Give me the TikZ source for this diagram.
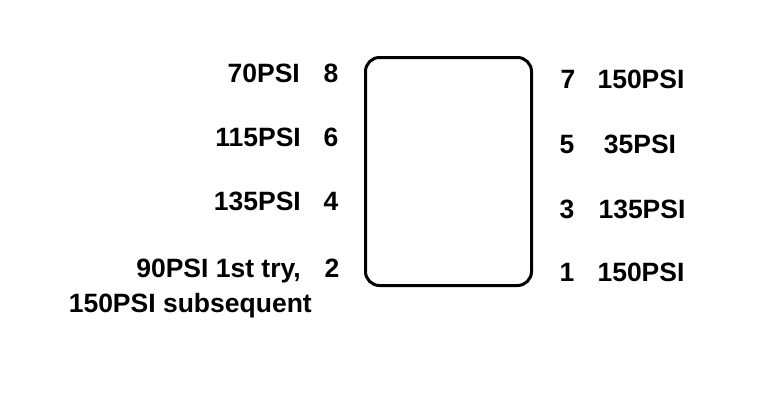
\documentclass[tikz,border=0pt]{standalone}
\usepackage{fontspec}
\setmainfont{Liberation Sans}
\usepackage{tikz}
\usetikzlibrary{positioning}

\begin{document}
\begin{tikzpicture}[x=1pt, y=-1pt,
			body/.style={
					rectangle,
					draw,
					line width=3pt,
					rounded corners=14pt,
					minimum width=166pt,
					minimum height=228pt
				},
			pin/.style={font=\fontsize{26.5}{35}\selectfont\bfseries, inner sep=0pt, anchor=base},
			leftlabel/.style={pin, anchor=base east, align=right},
			rightlabel/.style={pin, anchor=base}
		]
		\useasboundingbox (0,0) rectangle (777,400);
		% Place nodes
		\node [body] (valve) at (448.5,171.5) {};
		% left side pins
		\node [pin] (p8) at (331,82) {8};
		\node [pin] (p6) at (331,146) {6};
		\node [pin] (p4) at (331,210) {4};
		\node [pin] (p2) at (332,277) {2};
		\node [leftlabel] (l8) at (300,82) {70PSI};
		\node [leftlabel] (l6) at (301,146) {115PSI};
		\node [leftlabel] (l4) at (301,210) {135PSI};
		\node [leftlabel] (l2) at (312,312) {90PSI 1st try,\hspace*{11pt}\\150PSI subsequent};
		% right side pins
		\node [pin] (p7) at (568,88) {7};
		\node [pin] (p5) at (567,153) {5};
		\node [pin] (p3) at (567,218) {3};
		\node [pin] (p1) at (567,281) {1};
		\node [rightlabel] (r7) at (641,88) {150PSI};
		\node [rightlabel] (r5) at (640,153) {35PSI};
		\node [rightlabel] (r3) at (642,218) {135PSI};
		\node [rightlabel] (r1) at (641,281) {150PSI};
	\end{tikzpicture}
\end{document}
